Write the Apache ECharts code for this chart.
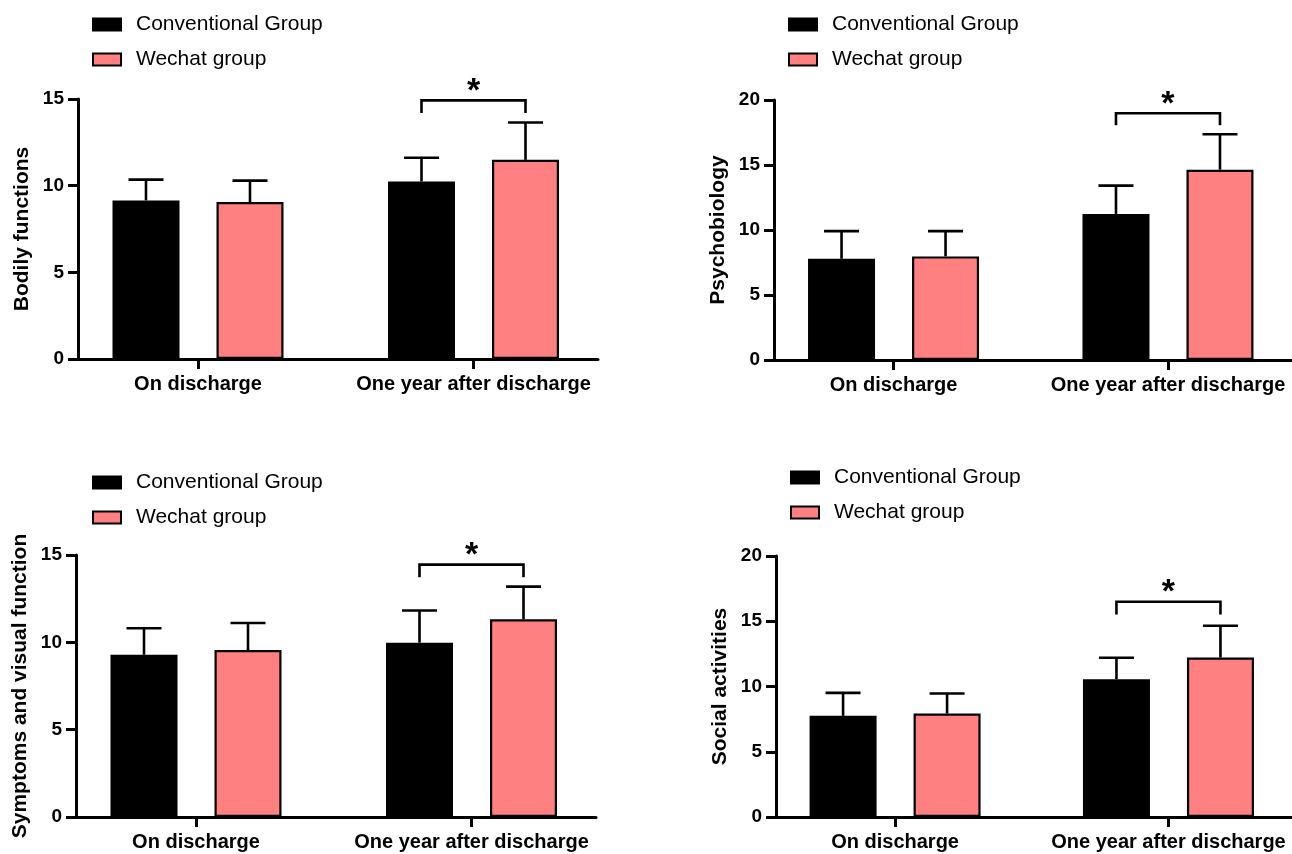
<!DOCTYPE html>
<html><head><meta charset="utf-8">
<script src="https://cdn.jsdelivr.net/npm/echarts@6/dist/echarts.min.js"></script>
<style>html,body{margin:0;padding:0;background:#fff}#c{width:1292px;height:854px}</style>
</head><body><div id="c"></div>
<script>
// ---------- data ----------
const categories = ['On discharge', 'One year after discharge'];
const groupNames = ['Conventional Group', 'Wechat group'];
const yTitles = ['Bodily functions', 'Psychobiology', 'Symptoms and visual function', 'Social activities'];
const yMaxima = [15, 20, 15, 20];
const yStep = 5;

const bodilyConvMean = [9.15, 10.24];
const bodilyConvSD = [1.20, 1.37];
const bodilyWechatMean = [9.06, 11.49];
const bodilyWechatSD = [1.23, 2.15];

const psychoConvMean = [7.79, 11.24];
const psychoConvSD = [2.12, 2.17];
const psychoWechatMean = [7.97, 14.64];
const psychoWechatSD = [1.94, 2.73];

const symptomConvMean = [9.29, 9.98];
const symptomConvSD = [1.52, 1.84];
const symptomWechatMean = [9.56, 11.32];
const symptomWechatSD = [1.55, 1.87];

const socialConvMean = [7.75, 10.56];
const socialConvSD = [1.76, 1.64];
const socialWechatMean = [7.93, 12.22];
const socialWechatSD = [1.53, 2.43];

const sigCategory = 'One year after discharge';
const sigLabel = '*';
const bracketTop = [14.92, 18.98, 14.45, 16.50];
const bracketLeg = [14.19, 18.06, 13.72, 15.52];

// ---------- styles / layout ----------
const FONT = 'Liberation Sans, Arial, sans-serif';
const COLORS = ['#000000', '#FF8080'];
const BAR_W = 67, BAR_GAP_PX = 37;
const OFF = (BAR_W + BAR_GAP_PX) / 2;
const CAP = 35;
const AX_W = 3;
const PX_PER_CAT = 275.5, PAD_LEFT = 120, AXIS_LEN = 520;
const XMIN = 1 - PAD_LEFT / PX_PER_CAT;
const XMAX = XMIN + AXIS_LEN / PX_PER_CAT;

const layouts = [
  { left: 78,  top: 99,  height: 260, lgLeft: 87,  lgTop: 9 },
  { left: 774, top: 100, height: 260, lgLeft: 783, lgTop: 9 },
  { left: 76,  top: 555, height: 262, lgLeft: 87,  lgTop: 467 },
  { left: 776, top: 556, height: 261, lgLeft: 785, lgTop: 462 }
];

const panels = [
  [[bodilyConvMean, bodilyConvSD], [bodilyWechatMean, bodilyWechatSD]],
  [[psychoConvMean, psychoConvSD], [psychoWechatMean, psychoWechatSD]],
  [[symptomConvMean, symptomConvSD], [symptomWechatMean, symptomWechatSD]],
  [[socialConvMean, socialConvSD], [socialWechatMean, socialWechatSD]]
];

const option = {
  animation: false,
  backgroundColor: '#fff',
  textStyle: { fontFamily: FONT },
  grid: [], xAxis: [], yAxis: [], series: [], legend: []
};

panels.forEach((groups, p) => {
  const L = layouts[p];
  option.grid.push({ left: L.left, top: L.top, width: AXIS_LEN, height: L.height, containLabel: false });
  option.xAxis.push({
    type: 'value', gridIndex: p, min: XMIN, max: XMAX,
    axisLine: { show: true, onZero: false, lineStyle: { color: '#000', width: AX_W } },
    axisTick: { show: true, customValues: [1, 2], length: 10, lineStyle: { color: '#000', width: AX_W } },
    axisLabel: {
      show: true, customValues: [1, 2], margin: 15,
      formatter: v => categories[Math.round(v) - 1] || '',
      color: '#000', fontSize: 20, fontWeight: 'bold', fontFamily: FONT
    },
    splitLine: { show: false }
  });
  option.yAxis.push({
    type: 'value', gridIndex: p, min: 0, max: yMaxima[p], interval: yStep,
    name: yTitles[p], nameLocation: 'middle', nameGap: 45,
    nameTextStyle: { color: '#000', fontSize: 21, fontWeight: 'bold', fontFamily: FONT },
    axisLine: { show: true, lineStyle: { color: '#000', width: AX_W } },
    axisTick: { show: true, length: 10, lineStyle: { color: '#000', width: AX_W } },
    axisLabel: { color: '#000', fontSize: 19, fontWeight: 'bold', margin: 14, fontFamily: FONT },
    splitLine: { show: false }
  });
  option.legend.push({
    orient: 'vertical', left: L.lgLeft, top: L.lgTop,
    data: groupNames, itemWidth: 28, itemHeight: 12, itemGap: 14,
    selectedMode: false, icon: 'rect',
    textStyle: { color: '#000', fontSize: 21, lineHeight: 21, fontFamily: FONT, padding: [0, 0, 0, 10] }
  });
  groups.forEach(([mean, sd], g) => {
    option.series.push({
      type: 'bar', name: groupNames[g], xAxisIndex: p, yAxisIndex: p,
      barWidth: BAR_W, barGap: (BAR_GAP_PX / BAR_W * 100) + '%',
      itemStyle: { color: COLORS[g], borderColor: '#000', borderWidth: 2.2 },
      data: categories.map((c, j) => [j + 1, mean[j]]), z: 2
    });
    const sign = g === 0 ? -1 : 1;
    option.series.push({
      type: 'custom', name: groupNames[g] + ' SD', xAxisIndex: p, yAxisIndex: p, z: 3, clip: false,
      encode: { x: 0, y: [1, 2] },
      data: categories.map((c, j) => [j + 1, mean[j], mean[j] + sd[j]]),
      renderItem: (params, api) => {
        const b = api.coord([api.value(0), api.value(1)]);
        const t = api.coord([api.value(0), api.value(2)]);
        const cx = b[0] + sign * OFF;
        const st = { stroke: '#000', lineWidth: 2.6, fill: null };
        return { type: 'group', children: [
          { type: 'line', shape: { x1: cx, y1: b[1], x2: cx, y2: t[1] }, style: st },
          { type: 'line', shape: { x1: cx - CAP / 2, y1: t[1], x2: cx + CAP / 2, y2: t[1] }, style: st }
        ] };
      }
    });
  });
  option.series.push({
    type: 'custom', name: 'sig', xAxisIndex: p, yAxisIndex: p, z: 4, clip: false,
    encode: { x: 0, y: [1, 2] },
    data: [[categories.indexOf(sigCategory) + 1, bracketLeg[p], bracketTop[p]]],
    renderItem: (params, api) => {
      const t = api.coord([api.value(0), api.value(2)]);
      const l = api.coord([api.value(0), api.value(1)]);
      const x1 = t[0] - OFF, x2 = t[0] + OFF;
      return { type: 'group', children: [
        { type: 'polyline', shape: { points: [[x1, l[1]], [x1, t[1]], [x2, t[1]], [x2, l[1]]] },
          style: { stroke: '#000', lineWidth: 2.6, fill: null } },
        { type: 'text', x: t[0], y: t[1] + 8,
          style: { text: sigLabel, fontSize: 34, fontWeight: 'bold', fill: '#000', align: 'center',
                   verticalAlign: 'bottom', fontFamily: FONT } }
      ] };
    }
  });
});

const chart = echarts.init(document.getElementById('c'), null, { renderer: 'canvas' });
chart.setOption(option);
</script>
</body></html>
